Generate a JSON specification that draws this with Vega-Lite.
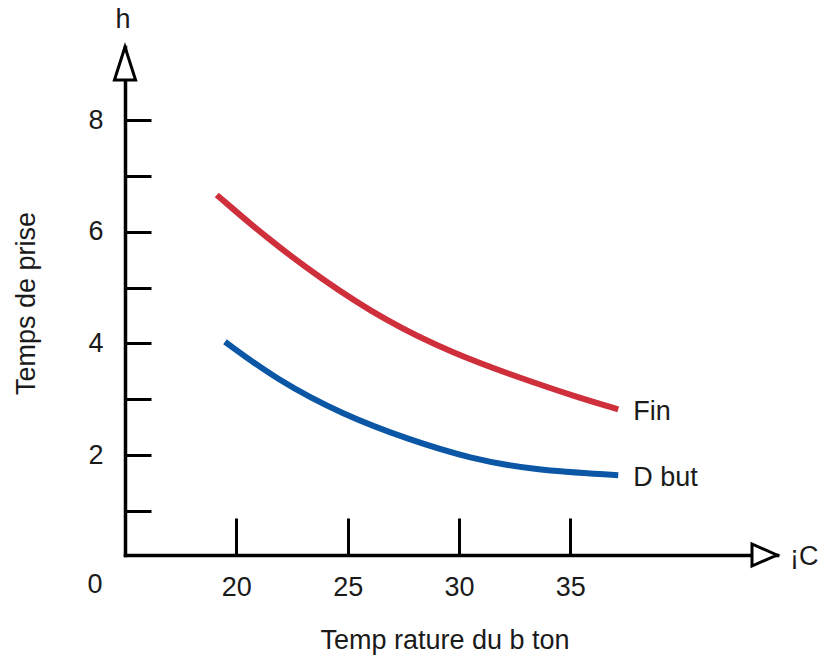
{
  "$schema": "https://vega.github.io/schema/vega-lite/v6.json",
  "width": 652,
  "height": 508,
  "autosize": {"type": "none"},
  "padding": {"left": 125, "top": 47, "right": 49, "bottom": 106},
  "background": "white",
  "config": {"view": {"stroke": null}, "font": "Liberation Sans"},
  "datasets": {
    "curves": [
      {"serie": "Fin", "temp": 19.12, "h": 6.66},
      {"serie": "Fin", "temp": 21.36, "h": 5.89},
      {"serie": "Fin", "temp": 23.76, "h": 5.17},
      {"serie": "Fin", "temp": 26.75, "h": 4.39},
      {"serie": "Fin", "temp": 29.74, "h": 3.82},
      {"serie": "Fin", "temp": 32.74, "h": 3.38},
      {"serie": "Fin", "temp": 35.43, "h": 3.02},
      {"serie": "Fin", "temp": 37.15, "h": 2.82},
      {"serie": "D but", "temp": 19.49, "h": 4.03},
      {"serie": "D but", "temp": 21.81, "h": 3.35},
      {"serie": "D but", "temp": 24.8, "h": 2.72},
      {"serie": "D but", "temp": 27.8, "h": 2.27},
      {"serie": "D but", "temp": 30.49, "h": 1.94},
      {"serie": "D but", "temp": 33.33, "h": 1.73},
      {"serie": "D but", "temp": 37.15, "h": 1.64}
    ],
    "arrows": [
      {"dir": "up", "temp": 15, "h": 9.31},
      {"dir": "right", "temp": 44.28, "h": 0.21}
    ]
  },
  "layer": [
    {
      "data": {"name": "curves"},
      "mark": {"type": "line", "interpolate": "basis", "strokeWidth": 6, "strokeCap": "butt"},
      "encoding": {
        "x": {
          "field": "temp", "type": "quantitative",
          "scale": {"domain": [15, 44.28], "nice": false, "zero": false},
          "axis": {
            "values": [20, 25, 30, 35],
            "format": "d",
            "grid": false,
            "domainColor": "black", "domainWidth": 3.5, "domainCap": "square",
            "tickColor": "black", "tickWidth": 3, "tickSize": -37,
            "labelFontSize": 27, "labelColor": "#1a1a1a", "labelPadding": 56, "labelBaseline": "top",
            "title": "Temp rature du b ton", "titleFontSize": 27, "titleFontWeight": "normal", "titleColor": "#1a1a1a",
            "titleX": 319.5, "titleY": 85, "titleBaseline": "middle", "titleAlign": "center"
          }
        },
        "y": {
          "field": "h", "type": "quantitative",
          "scale": {"domain": [0.21, 9.31], "nice": false, "zero": false},
          "axis": {
            "values": [1, 2, 3, 4, 5, 6, 7, 8],
            "format": "d",
            "labelExpr": "datum.value % 2 == 0 ? datum.label : ''",
            "grid": false,
            "domainColor": "black", "domainWidth": 3.5, "domainCap": "square",
            "tickColor": "black", "tickWidth": 3, "tickSize": -26,
            "labelFontSize": 27, "labelColor": "#1a1a1a", "labelPadding": 48, "labelBaseline": "middle",
            "title": "Temps de prise", "titleFontSize": 27, "titleFontWeight": "normal", "titleColor": "#1a1a1a",
            "titleX": -99, "titleY": 256, "titleAngle": -90, "titleBaseline": "middle", "titleAlign": "center"
          }
        },
        "color": {
          "field": "serie", "type": "nominal",
          "scale": {"domain": ["Fin", "D but"], "range": ["#cf2f3a", "#0b57a6"]},
          "legend": null
        }
      }
    },
    {
      "data": {"name": "curves"},
      "transform": [
        {"joinaggregate": [{"op": "max", "field": "temp", "as": "maxT"}], "groupby": ["serie"]},
        {"filter": "datum.temp == datum.maxT"}
      ],
      "mark": {"type": "text", "align": "left", "baseline": "middle", "dx": 15, "dy": 3, "fontSize": 27, "color": "#1a1a1a"},
      "encoding": {
        "x": {"field": "temp", "type": "quantitative"},
        "y": {"field": "h", "type": "quantitative"},
        "text": {"field": "serie"}
      }
    },
    {
      "data": {"name": "arrows"},
      "mark": {"type": "point", "filled": false, "fill": "white", "fillOpacity": 1, "stroke": "black", "strokeWidth": 3, "size": 1089, "opacity": 1},
      "encoding": {
        "x": {"field": "temp", "type": "quantitative"},
        "y": {"field": "h", "type": "quantitative"},
        "shape": {
          "field": "dir", "type": "nominal",
          "scale": {"domain": ["up", "right"], "range": ["M0,0L0.64,2L-0.64,2Z", "M0,0L-1.515,-0.667L-1.515,0.667Z"]},
          "legend": null
        }
      }
    },
    {
      "data": {"values": [{"temp": 15, "h": 0.21, "t": "0"}]},
      "mark": {"type": "text", "align": "center", "baseline": "middle", "dx": -30, "dy": 30, "fontSize": 27, "color": "#1a1a1a"},
      "encoding": {
        "x": {"field": "temp", "type": "quantitative"},
        "y": {"field": "h", "type": "quantitative"},
        "text": {"field": "t"}
      }
    },
    {
      "data": {"values": [{"temp": 15, "h": 9.31, "t": "h"}]},
      "mark": {"type": "text", "align": "center", "baseline": "middle", "dx": -2, "dy": -27, "fontSize": 27, "color": "#1a1a1a"},
      "encoding": {
        "x": {"field": "temp", "type": "quantitative"},
        "y": {"field": "h", "type": "quantitative"},
        "text": {"field": "t"}
      }
    },
    {
      "data": {"values": [{"temp": 44.28, "h": 0.21, "t": "¡C"}]},
      "mark": {"type": "text", "align": "left", "baseline": "alphabetic", "dx": 13, "dy": 10, "fontSize": 27, "color": "#1a1a1a"},
      "encoding": {
        "x": {"field": "temp", "type": "quantitative"},
        "y": {"field": "h", "type": "quantitative"},
        "text": {"field": "t"}
      }
    }
  ]
}
